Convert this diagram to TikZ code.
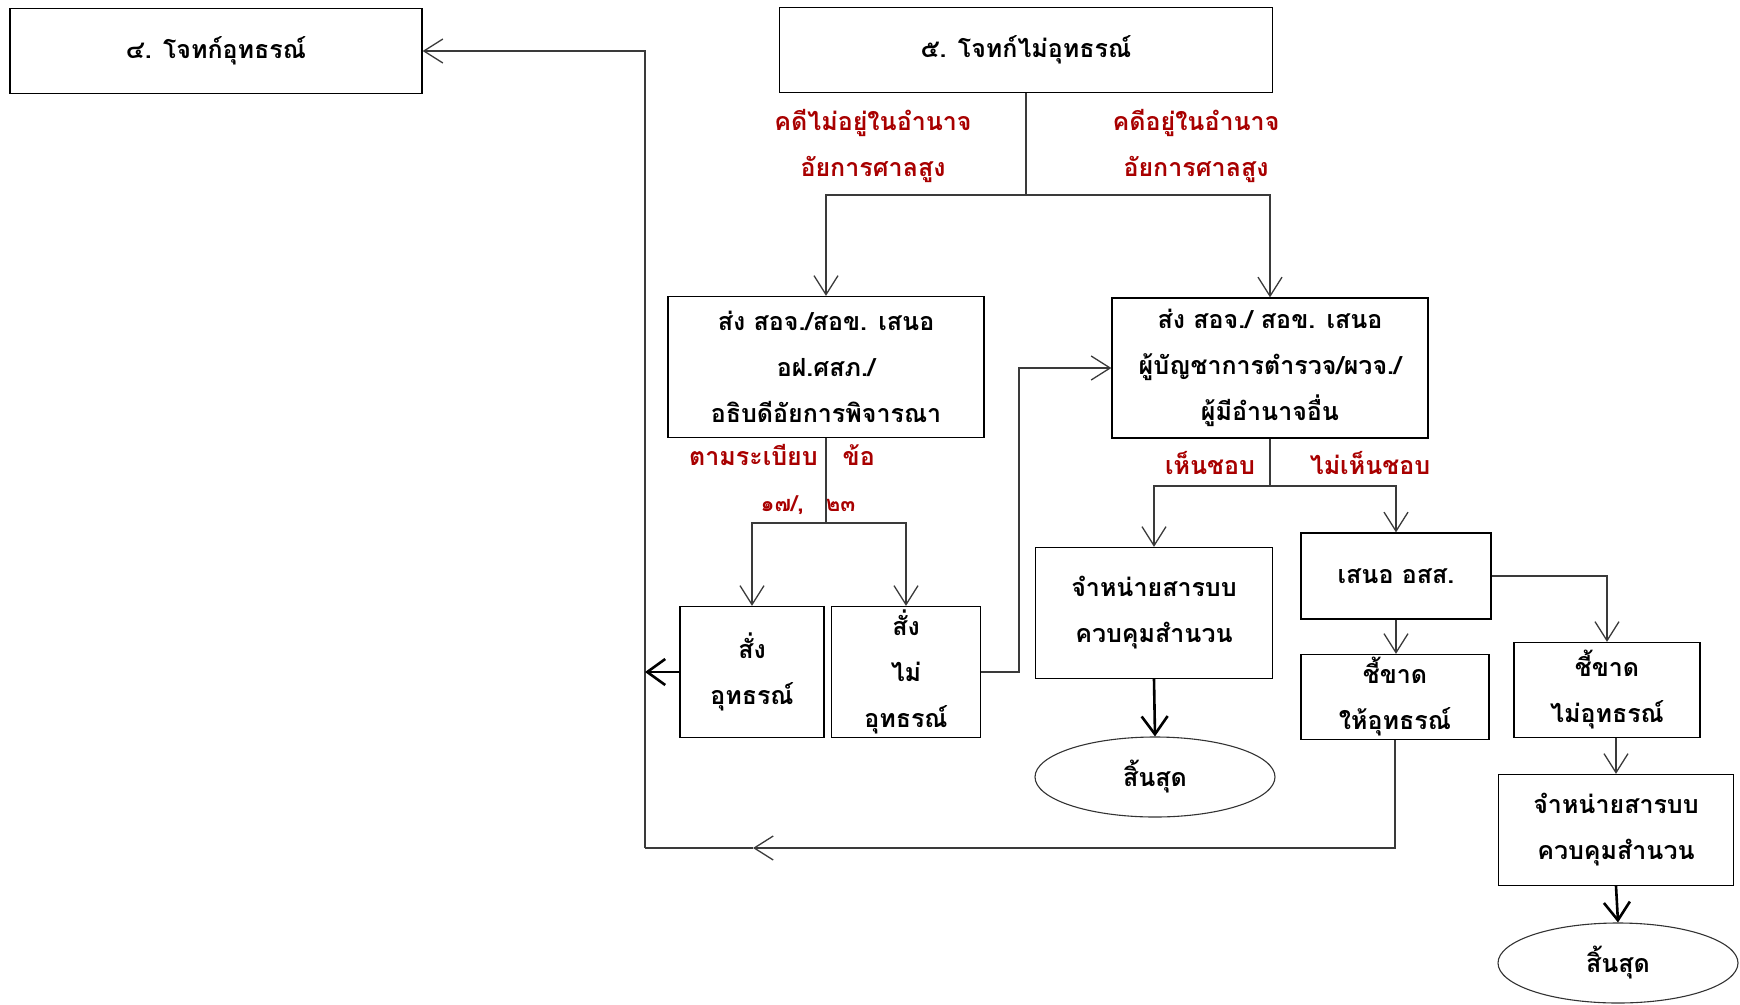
\documentclass[tikz,border=0pt]{standalone}
\usepackage{fontspec}
\newfontfamily\thaifont[Script=Thai]{Loma}
\usetikzlibrary{arrows.meta,positioning,shapes.geometric}
\definecolor{caseRed}{HTML}{A80000}
\definecolor{wireGray}{HTML}{3A3A3A}

\begin{document}
\begin{tikzpicture}[
  x=1pt, y=-1pt,
  font=\thaifont\bfseries\fontsize{25}{46}\selectfont,
  >={Straight Barb[length=19pt,width=24pt]},
  casebox/.style={
    draw=black,
    fill=white,
    line width=1.3pt,
    inner sep=0pt,
    align=center
  },
  endbox/.style={
    ellipse,
    draw=black!80,
    line width=1.1pt,
    inner sep=0pt,
    minimum width=240pt,
    minimum height=80pt
  },
  redlabel/.style={
    text=caseRed,
    align=center,
    inner sep=1pt
  },
  flow/.style={->, line width=1.3pt, draw=wireGray},
  wire/.style={line width=1.3pt, draw=wireGray},
  bigflow/.style={-{Straight Barb[length=18pt,width=26pt]}, line width=2.6pt, draw=black}
]
  \useasboundingbox (0,0) rectangle (1740,1004);

  % --- TOP ROW ---
  \node[casebox, minimum width=412pt, minimum height=85pt] (appeal) at (216,51) {๔. โจทก์อุทธรณ์};
  \node[casebox, minimum width=493pt, minimum height=85pt] (noappeal) at (1026,50) {๕. โจทก์ไม่อุทธรณ์};

  \node[redlabel] (notin) at (873,146) {คดีไม่อยู่ในอำนาจ\\อัยการศาลสูง};
  \node[redlabel] (isin) at (1196,146) {คดีอยู่ในอำนาจ\\อัยการศาลสูง};

  % --- SECOND ROW: sending boxes ---
  \node[casebox, minimum width=316pt, minimum height=141pt] (sendL) at (826,367) {ส่ง สอจ./สอข. เสนอ\\อฝ.ศสภ./\\อธิบดีอัยการพิจารณา};
  \node[casebox, minimum width=316pt, minimum height=140pt] (sendR) at (1270,368) {ส่ง สอจ./ สอข. เสนอ\\ผู้บัญชาการตำรวจ/ผวจ./\\ผู้มีอำนาจอื่น};

  \node[redlabel] (rule) at (782,455) {ตามระเบียบ\quad ข้อ};
  \node[redlabel, font=\thaifont\bfseries\fontsize{22}{30}\selectfont] (clause) at (808,505) {๑๗/,\quad ๒๓};
  \node[redlabel] (agree) at (1210,463) {เห็นชอบ};
  \node[redlabel] (disagree) at (1370,463) {ไม่เห็นชอบ};

  % --- THIRD ROW: orders ---
  \node[casebox, minimum width=144pt, minimum height=131pt] (orderYes) at (752,672) {สั่ง\\อุทธรณ์};
  \node[casebox, minimum width=149pt, minimum height=131pt] (orderNo) at (906,672) {สั่ง\\ไม่\\อุทธรณ์};
  \node[casebox, minimum width=237pt, minimum height=131pt] (closeL) at (1154,613) {จำหน่ายสารบบ\\ควบคุมสำนวน};
  \node[endbox] (endL) at (1155,777) {สิ้นสุด};

  % --- RIGHT COLUMN: attorney general ---
  \node[casebox, minimum width=190pt, minimum height=86pt] (propose) at (1396,576) {เสนอ อสส.};
  \node[casebox, minimum width=188pt, minimum height=85pt] (ruleYes) at (1395,697) {ชี้ขาด\\ให้อุทธรณ์};
  \node[casebox, minimum width=186pt, minimum height=95pt] (ruleNo) at (1607,690) {ชี้ขาด\\ไม่อุทธรณ์};
  \node[casebox, minimum width=235pt, minimum height=111pt] (closeR) at (1616,830) {จำหน่ายสารบบ\\ควบคุมสำนวน};
  \node[endbox] (endR) at (1618,963) {สิ้นสุด};

  % junctions
  \coordinate (split1) at (noappeal.south |- 0,195);
  \coordinate (split2) at (sendL.south |- 0,523);
  \coordinate (split3) at (sendR.south |- 0,486);
  \coordinate (bend) at (1019,0);
  \coordinate (back) at (645,848);
  \coordinate (midtip) at (753,848);

  % Connecting Arrows
  \draw[wire] (noappeal.south) -- (split1);
  \draw[flow] (split1) -| (sendL.north);
  \draw[flow] (split1) -| (sendR.north);
  \draw[wire] (sendL.south) -- (split2);
  \draw[flow] (split2) -| (orderYes.north);
  \draw[flow] (split2) -| (orderNo.north);
  \draw[flow] (orderNo.east) -- (orderNo.east -| bend) |- (sendR.west);
  \draw[wire] (sendR.south) -- (split3);
  \draw[flow] (split3) -| (closeL.north);
  \draw[flow] (split3) -| (propose.north);
  \draw[bigflow] (closeL.south) -- (endL.north);
  \draw[flow] (propose.south) -- (propose.south |- ruleYes.north);
  \draw[flow] (propose.east) -| (ruleNo.north);
  \draw[flow] (closeR.north |- ruleNo.south) -- (closeR.north);
  \draw[bigflow] (closeR.south) -- (endR.north);
  \draw[flow] (ruleYes.south) |- (midtip);
  \draw[wire] (midtip) -- (back);
  \draw[flow] (back) |- (appeal.east);
  \draw[bigflow] (orderYes.west) -- (orderYes.west -| back);

\end{tikzpicture}
\end{document}
